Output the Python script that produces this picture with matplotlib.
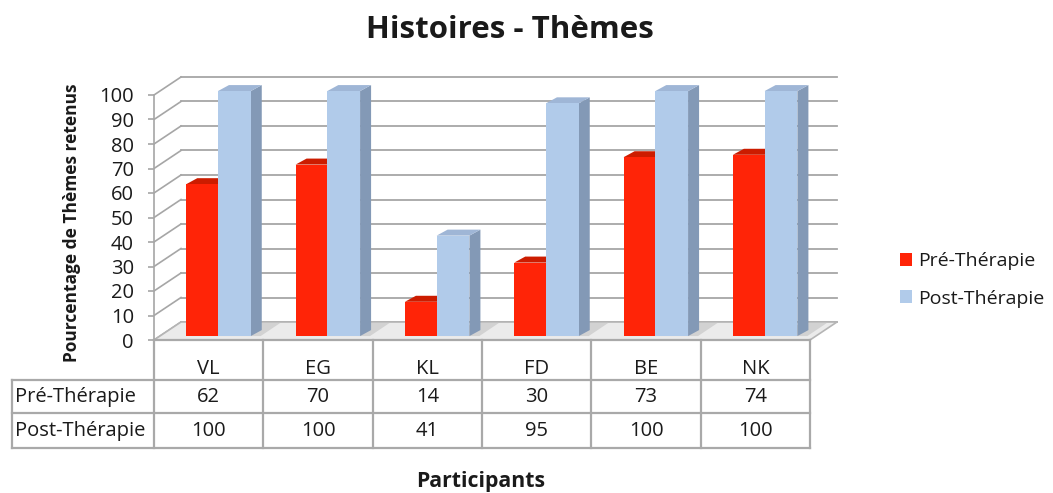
import matplotlib
matplotlib.use("Agg")
import matplotlib.pyplot as plt
import matplotlib.transforms as mtransforms
from matplotlib.patches import Polygon, Patch
from matplotlib.lines import Line2D

# ---------------- data ----------------
categories = ["VL", "EG", "KL", "FD", "BE", "NK"]
series_names = ["Pré-Thérapie", "Post-Thérapie"]
pre_values = [62, 70, 14, 30, 73, 74]
post_values = [100, 100, 41, 95, 100, 100]
yticks = [0, 10, 20, 30, 40, 50, 60, 70, 80, 90, 100]
title = "Histoires - Thèmes"
ylabel = "Pourcentage de Thèmes retenus"
xlabel = "Participants"

# ---------------- style ----------------
FONT = ["Open Sans", "DejaVu Sans"]
plt.rcParams["font.family"] = FONT
W, H = 1053, 493
PX = 109.33   # px per category
PY = 2.45     # px per value unit
DX = 27 / PX  # depth offset of back wall
DY = 18 / PY
SDX = 11 / PX  # bar depth
SDY = 6 / PY
BASE = 1.6
BAR_OFF = 0.295
BAR_W = 0.29
GRID = "#a6a6a6"
RED, RED_TOP = "#ff2407", "#cc1c00"
BLUE, BLUE_SIDE, BLUE_TOP = "#b1cbea", "#8399b6", "#9fb6d6"
TXT = "#1a1a1a"
FS = 14.5

fig = plt.figure(figsize=(W / 100, H / 100), dpi=100)
ax = fig.add_axes([154 / W, 1 - 340 / H, (840 - 154) / W, (340 - 70) / H])
ncat = len(categories)
ax.set_xlim(0, 686 / PX)
ax.set_ylim(0, 270 / PY)
for s in ["top", "right", "bottom"]:
    ax.spines[s].set_visible(False)
ax.spines["left"].set_bounds(0, 100)
ax.spines["left"].set_color(GRID)
ax.spines["left"].set_linewidth(1.2)
ax.set_xticks([])
ax.set_yticks(yticks)
ax.tick_params(axis="y", length=4.5, width=1.2, color=GRID, pad=10,
               labelsize=FS, labelcolor=TXT)
ax.patch.set_alpha(0)

# floor
ax.add_patch(Polygon([(0, 0), (ncat, 0), (ncat + DX, DY), (DX, DY)],
                     closed=True, facecolor="#ebebeb", edgecolor="#b5b5b5",
                     linewidth=1.2, zorder=1))

# back wall grid + diagonals
for v in yticks:
    ax.plot([DX, ncat + DX], [v + DY, v + DY], color=GRID, lw=1.3, zorder=0.5)
    ax.plot([0, DX], [v, v + DY], color=GRID, lw=1.2, zorder=0.5)

# bar shadows on floor
for i in range(ncat):
    x0 = i + BAR_OFF
    x1 = x0 + 2 * BAR_W + SDX
    ax.add_patch(Polygon([(x0 + 0.05, BASE), (x1, BASE), (x1 + 0.18, DY * 0.95),
                          (x1 + 0.02, DY * 0.95)], closed=True,
                         facecolor="#d2d2d2", edgecolor="none", zorder=1.5))


def bar3d(x0, w, v, front, side, top):
    y1 = BASE + v
    ax.add_patch(Polygon([(x0 + w, BASE), (x0 + w + SDX, BASE + SDY),
                          (x0 + w + SDX, y1 + SDY), (x0 + w, y1)], closed=True,
                         facecolor=side, edgecolor="none", zorder=2))
    ax.add_patch(Polygon([(x0, y1), (x0 + w, y1), (x0 + w + SDX, y1 + SDY),
                          (x0 + SDX, y1 + SDY)], closed=True,
                         facecolor=top, edgecolor="none", zorder=2))
    ax.add_patch(Polygon([(x0, BASE), (x0 + w, BASE), (x0 + w, y1), (x0, y1)],
                         closed=True, facecolor=front, edgecolor="none", zorder=2))


for i in range(ncat):
    xr = i + BAR_OFF
    bar3d(xr, BAR_W, pre_values[i], RED, RED_TOP, RED_TOP)
    bar3d(xr + BAR_W, BAR_W + 0.01, post_values[i], BLUE, BLUE_SIDE, BLUE_TOP)

# ---------------- data table ----------------
ty = mtransforms.Affine2D().scale(1.0 / W, -1.0 / H).translate(0, 1) + fig.transFigure
bt = mtransforms.blended_transform_factory(ax.transData, ty)
TL = -142 / PX
rows_y = [340, 380, 413, 448]
TGRID = "#a9a9a9"


def tline(xs, ys):
    fig.add_artist(Line2D(xs, ys, transform=bt, color=TGRID, lw=1.6, clip_on=False))


tline([0, ncat], [rows_y[0], rows_y[0]])
for yy in rows_y[1:]:
    tline([TL, ncat], [yy, yy])
tline([TL, TL], [rows_y[1], rows_y[3]])
for i in range(ncat + 1):
    tline([i, i], [rows_y[0], rows_y[3]])

for i, c in enumerate(categories):
    fig.text(i + 0.5, 369, c, transform=bt, ha="center", va="center",
             fontsize=FS, color=TXT)
    fig.text(i + 0.5, 397, str(pre_values[i]), transform=bt, ha="center",
             va="center", fontsize=FS, color=TXT)
    fig.text(i + 0.5, 431, str(post_values[i]), transform=bt, ha="center",
             va="center", fontsize=FS, color=TXT)
fig.text(TL + 3 / PX, 397, series_names[0], transform=bt, ha="left", va="center",
         fontsize=FS, color=TXT)
fig.text(TL + 3 / PX, 431, series_names[1], transform=bt, ha="left", va="center",
         fontsize=FS, color=TXT)

# ---------------- titles ----------------
fig.text(510 / W, 1 - 30 / H, title, ha="center", va="center", fontsize=22.5,
         fontweight="bold", color=TXT)
fig.text(72 / W, 1 - 223 / H, ylabel, ha="center", va="center", rotation=90,
         fontsize=12.5, fontweight="bold", color=TXT)
fig.text(481 / W, 1 - 482 / H, xlabel, ha="center", va="center", fontsize=15.3,
         fontweight="bold", color=TXT)

# ---------------- legend ----------------
handles = [Patch(facecolor=RED, edgecolor="none"),
           Patch(facecolor=BLUE, edgecolor="none")]
fig.legend(handles, series_names, loc="center left",
           bbox_to_anchor=(882 / W, 1 - 280 / H), frameon=False, fontsize=14,
           handlelength=0.65, handleheight=0.65, handletextpad=0.3,
           labelspacing=1.0, labelcolor=TXT)

fig.savefig("out.png", dpi=100)
